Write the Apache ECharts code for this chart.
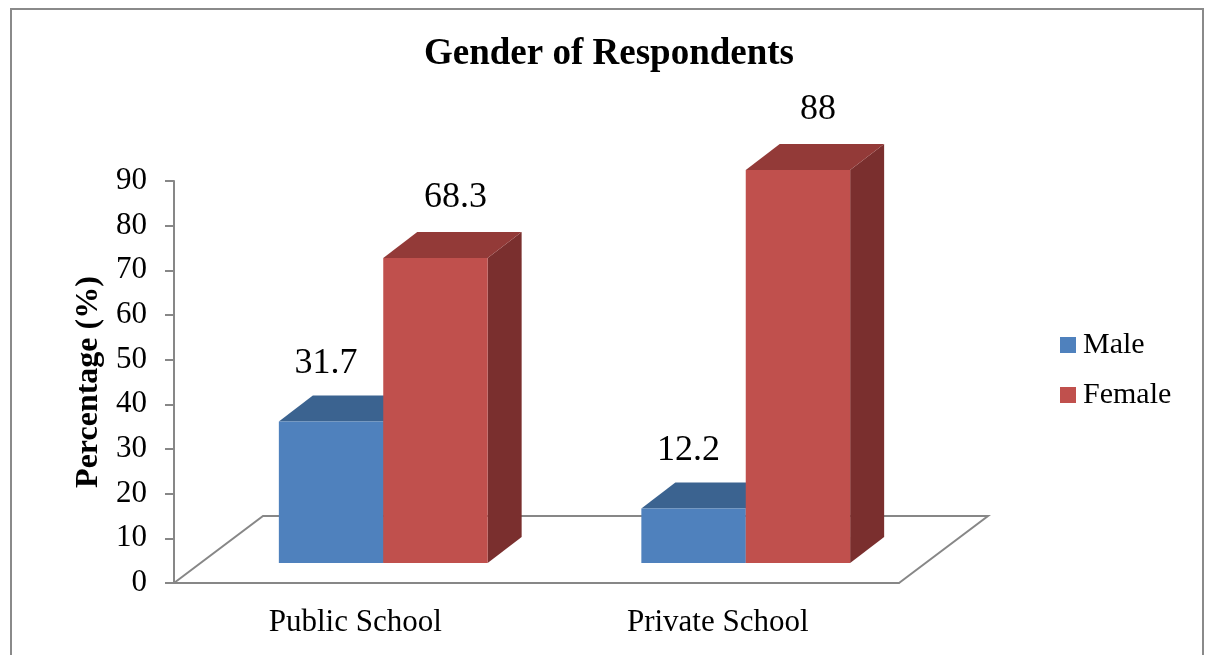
<!DOCTYPE html>
<html>
<head>
<meta charset="utf-8">
<title>Gender of Respondents</title>
<script src="https://cdn.jsdelivr.net/npm/echarts@6/dist/echarts.min.js"></script>
<style>
  html, body { margin: 0; padding: 0; background: #ffffff; }
  #chart { width: 1207px; height: 655px; }
</style>
</head>
<body>
<div id="chart"></div>
<script>
// data
const categories = ['Public School', 'Private School']
const maleValues = [31.7, 12.2]
const femaleValues = [68.3, 88]
const yTicks = { min: 0, max: 90, interval: 10 }

const FONT = '"Liberation Serif", "Times New Roman", serif'
const GRAY = '#878787'

// fake 3d projection (pixels)
const FLOOR_DEPTH = [89, -67]
const FRONT_SHIFT = [28, -20]
const BAR_DEPTH = [34, -26]
const BAR_RATIO = 0.288

const chart = echarts.init(document.getElementById('chart'))

const toPairs = (vals) => vals.map((v, i) => [i, v])

// floor outline: back + sides, the front edge is the x axis itself
const floorRenderer = (params, api) => {
  const cs = params.coordSys
  const x0 = cs.x
  const x1 = cs.x + cs.width
  const y0 = cs.y + cs.height
  return {
    type: 'polyline',
    shape: {
      points: [
        [x0, y0],
        [x0 + FLOOR_DEPTH[0], y0 + FLOOR_DEPTH[1]],
        [x1 + FLOOR_DEPTH[0], y0 + FLOOR_DEPTH[1]],
        [x1, y0],
      ],
    },
    style: { stroke: GRAY, lineWidth: 2, fill: null },
  }
}

const barRenderer = (slot, colors, labelDx, labelDy) => (params, api) => {
  const cat = api.value(0)
  const val = api.value(1)
  const base = api.coord([cat, 0])
  const top = api.coord([cat, val])
  const w = api.size([1, 0])[0] * BAR_RATIO
  const xl = base[0] + slot * w + FRONT_SHIFT[0]
  const xr = xl + w
  const yb = base[1] + FRONT_SHIFT[1]
  const yt = top[1] + FRONT_SHIFT[1]
  const [dx, dy] = BAR_DEPTH
  return {
    type: 'group',
    children: [
      {
        type: 'polygon',
        shape: { points: [[xr, yt], [xr, yb], [xr + dx, yb + dy], [xr + dx, yt + dy]] },
        style: { fill: colors.side },
      },
      {
        type: 'polygon',
        shape: { points: [[xl, yt], [xr, yt], [xr + dx, yt + dy], [xl + dx, yt + dy]] },
        style: { fill: colors.top },
      },
      {
        type: 'rect',
        shape: { x: xl, y: yt, width: w, height: yb - yt },
        style: { fill: colors.front },
      },
      {
        type: 'text',
        style: {
          text: String(val),
          x: (xl + xr) / 2 + labelDx,
          y: yt - labelDy,
          align: 'center',
          verticalAlign: 'middle',
          fill: '#000000',
          fontSize: 36,
          fontFamily: FONT,
        },
      },
    ],
  }
}

const maleColors = { front: '#4f81bd', top: '#3b6390', side: '#2f4e72' }
const femaleColors = { front: '#c0504d', top: '#933a38', side: '#7a2f2e' }

const option = {
  backgroundColor: '#ffffff',
  animation: false,
  title: {
    text: 'Gender of Respondents',
    left: 609,
    textAlign: 'center',
    top: 36,
    padding: 0,
    textStyle: {
      fontFamily: FONT,
      fontWeight: 'bold',
      fontSize: 37,
      color: '#000000',
    },
  },
  legend: {
    data: ['Male', 'Female'],
    orient: 'vertical',
    left: 1060,
    top: 330,
    padding: 0,
    itemWidth: 16,
    itemHeight: 16,
    itemGap: 20,
    icon: 'rect',
    textStyle: {
      fontFamily: FONT,
      fontSize: 30,
      color: '#000000',
      padding: [0, 0, 0, 2],
    },
  },
  grid: {
    left: 174,
    right: 308,
    top: 181,
    bottom: 72,
  },
  xAxis: {
    type: 'category',
    data: categories,
    axisLine: { lineStyle: { color: GRAY, width: 2 } },
    axisTick: { length: 9, lineStyle: { color: GRAY, width: 2 } },
    axisLabel: {
      margin: 24,
      color: '#000000',
      fontFamily: FONT,
      fontSize: 31,
    },
  },
  yAxis: {
    type: 'value',
    min: yTicks.min,
    max: yTicks.max,
    interval: yTicks.interval,
    name: 'Percentage (%)',
    nameLocation: 'middle',
    nameGap: 67,
    nameTextStyle: {
      fontFamily: FONT,
      fontWeight: 'bold',
      fontSize: 32,
      color: '#000000',
    },
    axisLine: { show: true, lineStyle: { color: GRAY, width: 2 } },
    axisTick: { show: true, length: 9, lineStyle: { color: GRAY, width: 2 } },
    axisLabel: {
      margin: 27,
      color: '#000000',
      fontFamily: FONT,
      fontSize: 31,
    },
    splitLine: { show: false },
  },
  graphic: [
    {
      type: 'rect',
      shape: { x: 11, y: 9, width: 1192, height: 700 },
      style: { fill: null, stroke: '#8a8a8a', lineWidth: 2 },
      silent: true,
    },
  ],
  series: [
    {
      name: 'floor',
      type: 'custom',
      z: 1,
      clip: false,
      data: [[0, 0]],
      renderItem: floorRenderer,
      silent: true,
    },
    {
      name: 'Male',
      type: 'custom',
      z: 2,
      clip: false,
      itemStyle: { color: maleColors.front },
      data: toPairs(maleValues),
      renderItem: barRenderer(-1, maleColors, -5, 58),
    },
    {
      name: 'Female',
      type: 'custom',
      z: 3,
      clip: false,
      itemStyle: { color: femaleColors.front },
      data: toPairs(femaleValues),
      renderItem: barRenderer(0, femaleColors, 20, 60),
    },
  ],
}

chart.setOption(option)
</script>
</body>
</html>
